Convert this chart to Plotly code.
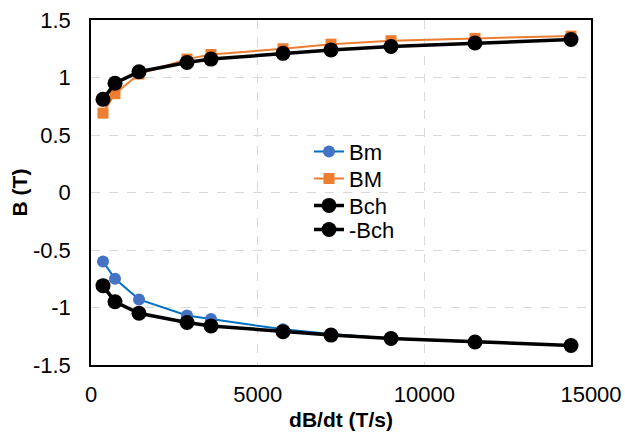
import plotly.graph_objects as go

x_rate = [360, 720, 1440, 2880, 3600, 5760, 7200, 9000, 11520, 14400]
bm_small = [-0.60, -0.75, -0.93, -1.07, -1.10, -1.19, -1.23, -1.27, -1.30, -1.33]
bm_big = [0.69, 0.86, 1.03, 1.16, 1.20, 1.25, 1.29, 1.32, 1.34, 1.36]
bch = [0.81, 0.95, 1.05, 1.13, 1.16, 1.21, 1.24, 1.27, 1.30, 1.33]
neg_bch = [-v for v in bch]

x_ticks = [0, 5000, 10000, 15000]
y_ticks = [-1.5, -1, -0.5, 0, 0.5, 1, 1.5]
y_tick_text = ["-1.5", "-1", "-0.5", "0", "0.5", "1", "1.5"]

font = "Liberation Sans, Arial, sans-serif"

fig = go.Figure()
fig.add_trace(go.Scatter(x=x_rate, y=bm_small, name="Bm", mode="lines+markers",
                         line=dict(color="#0070C0", width=2), legend="legend",
                         showlegend=True,
                         marker=dict(symbol="circle", size=12, color="#4472C4")))
fig.add_trace(go.Scatter(x=x_rate, y=bm_big, name="BM", mode="lines+markers",
                         line=dict(color="#ED7D31", width=2), legend="legend2",
                         showlegend=True,
                         marker=dict(symbol="square", size=11, color="#ED7D31")))
fig.add_trace(go.Scatter(x=x_rate, y=bch, name="Bch", mode="lines+markers",
                         line=dict(color="black", width=3.5), legend="legend3",
                         showlegend=True,
                         marker=dict(symbol="circle", size=15, color="black")))
fig.add_trace(go.Scatter(x=x_rate, y=neg_bch, name="-Bch", mode="lines+markers",
                         line=dict(color="black", width=3.5), legend="legend4",
                         showlegend=True,
                         marker=dict(symbol="circle", size=15, color="black")))

def leg(yc):
    return dict(x=0.436, y=yc, xanchor="left", yanchor="middle",
                bgcolor="rgba(0,0,0,0)", font=dict(size=22))

fig.update_layout(
    width=625, height=436, showlegend=True,
    margin=dict(l=91, r=34, t=20, b=71, autoexpand=False),
    paper_bgcolor="white", plot_bgcolor="white",
    font=dict(family=font, size=22, color="black"),
    legend=leg(0.618), legend2=leg(0.54), legend3=leg(0.462), legend4=leg(0.392),
    xaxis=dict(range=[0, 15000], tickvals=x_ticks, ticktext=[str(v) for v in x_ticks],
               showline=True, linecolor="black", linewidth=1.5, mirror=True,
               showgrid=True, gridcolor="#D9D9D9", griddash="dash", gridwidth=1,
               zeroline=False, ticks="", ticklabelstandoff=9, automargin=False,
               title=dict(text="<b>dB/dt (T/s)</b>", standoff=6, font=dict(size=21))),
    yaxis=dict(range=[-1.5, 1.5], tickvals=y_ticks, ticktext=y_tick_text,
               showline=True, linecolor="black", linewidth=1.5, mirror=True,
               showgrid=True, gridcolor="#D9D9D9", griddash="dash", gridwidth=1,
               zeroline=False, ticks="", ticklabelstandoff=14, automargin=False,
               title=dict(text="<b>B (T)</b>", standoff=0, font=dict(size=21))),
)

fig.write_html("out.html", config={"displayModeBar": False},
               post_script="document.body.style.margin='0';")
